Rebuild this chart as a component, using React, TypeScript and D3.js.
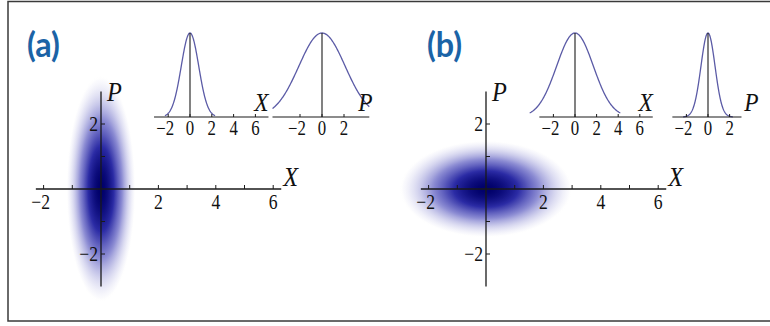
import React from "react";
import * as d3 from "d3";

// Panel titles
const panelTitles = ["(a)", "(b)"];

// Wigner-function widths (standard deviations) of the main density plots
const blobSigmaX = [0.5, 1.25];
const blobSigmaP = [1.45, 0.62];

// Marginal distributions shown in the small plots
const marginalXSigma = [0.8, 1.7];
const marginalPSigma = [2.1, 0.65];

// Main axes ticks
const mainXTicks = [-2, -1, 1, 2, 3, 4, 5, 6];
const mainXLabels = [-2, 2, 4, 6];
const mainPTicks = [-2, -1, 1, 2];
const mainPLabels = [-2, 2];

// Marginal plot ticks
const marginalXTicks = [-2, 0, 2, 4, 6];
const marginalPTicks = [-2, 0, 2];

// Axis/curve extents of the marginal plots (in data units)
const marginalXAxisDomain: [number, number][] = [[-3.3, 7.2], [-3.3, 7.2]];
const marginalXCurveDomain: [number, number][] = [[-2.3, 2.3], [-4.2, 4.2]];
const marginalPAxisDomain: [number, number][] = [[-4.5, 4.3], [-3.3, 3.1]];
const marginalPCurveDomain: [number, number][] = [[-4.5, 4.3], [-2.3, 2.3]];

const W = 770;
const H = 326;
const AXIS = "#1a1a1a";
const CURVE = "#5b5ba6";
const TITLE = "#1b63a6";
const SERIF = "'Liberation Serif', 'DejaVu Serif', serif";

const fmt = (v: number) => (v < 0 ? "\u2212" + Math.abs(v) : String(v));

// density colour ramp: white -> lavender -> blue -> navy
const densityRamp = d3
  .scaleLinear<string>()
  .domain([0, 0.3, 0.65, 1])
  .range(["#ffffff", "#8a8ad2", "#2a2aa4", "#00006a"])
  .interpolate(d3.interpolateRgb)
  .clamp(true);

function blobColor(d: number): string {
  return densityRamp((d - 0.06) / 0.94);
}

function SText(props: {
  x: number;
  y: number;
  size: number;
  anchor?: "start" | "middle" | "end";
  italic?: boolean;
  sx?: number;
  children: React.ReactNode;
}) {
  const { x, y, size, anchor = "middle", italic, sx = 0.84, children } = props;
  return (
    <text
      transform={`translate(${x},${y}) scale(${sx},1)`}
      fontFamily={SERIF}
      fontSize={size}
      fontStyle={italic ? "italic" : "normal"}
      textAnchor={anchor}
      fill="#111"
    >
      {children}
    </text>
  );
}

function Marginal(props: {
  zeroX: number;
  unit: number;
  axisDomain: [number, number];
  curveDomain: [number, number];
  sigma: number;
  ticks: number[];
  label: string;
  labelDx: number;
}) {
  const { zeroX, unit, axisDomain, curveDomain, sigma, ticks, label, labelDx } = props;
  const baseY = 117;
  const peakY = 33;
  const x = d3
    .scaleLinear()
    .domain(axisDomain)
    .range([zeroX + axisDomain[0] * unit, zeroX + axisDomain[1] * unit]);
  const y = d3.scaleLinear().domain([0, 1]).range([baseY, peakY]);
  const pts = d3.range(0, 201).map((i) => {
    const v = curveDomain[0] + ((curveDomain[1] - curveDomain[0]) * i) / 200;
    return [v, Math.exp(-(v * v) / (2 * sigma * sigma))] as [number, number];
  });
  const line = d3
    .line<[number, number]>()
    .x((d) => x(d[0]))
    .y((d) => y(d[1]));
  return (
    <g>
      <path d={line(pts) || ""} fill="none" stroke={CURVE} strokeWidth={1.3} />
      <line x1={x(axisDomain[0])} x2={x(axisDomain[1])} y1={baseY} y2={baseY} stroke={AXIS} strokeWidth={1.2} />
      <line x1={x(0)} x2={x(0)} y1={baseY} y2={peakY} stroke={AXIS} strokeWidth={1.1} />
      {ticks.map((t) => (
        <line key={t} x1={x(t)} x2={x(t)} y1={baseY} y2={baseY - 3} stroke={AXIS} strokeWidth={1} />
      ))}
      {ticks.map((t) => (
        <SText key={"l" + t} x={x(t) - (t < 0 ? 3 : 0)} y={baseY + 18} size={20}>
          {fmt(t)}
        </SText>
      ))}
      <SText x={x(axisDomain[1]) + labelDx} y={baseY - 6} size={26} italic sx={0.9}>
        {label}
      </SText>
    </g>
  );
}

function Panel(props: { idx: number; offset: number }) {
  const { idx, offset } = props;
  const ox = 101 + offset;
  const oy = 189;
  const ux = 28.7;
  const uy = 32.5;
  const sx = d3.scaleLinear().domain([-2.27, 6.28]).range([ox - 2.27 * ux, ox + 6.28 * ux]);
  const sy = d3.scaleLinear().domain([-3, 3]).range([oy + 3 * uy, oy - 3 * uy]);
  const gid = `blob-${idx}`;
  const R = 2.5;
  const stops = d3.range(0, 51).map((i) => {
    const o = i / 50;
    const r = o * R;
    return { o, c: blobColor(Math.exp(-(r * r) / 2)) };
  });
  return (
    <g>
      <defs>
        <radialGradient id={gid} cx="50%" cy="50%" r="50%">
          {stops.map((s, i) => (
            <stop key={i} offset={s.o} stopColor={s.c} />
          ))}
        </radialGradient>
      </defs>
      <ellipse
        cx={sx(0)}
        cy={sy(0)}
        rx={R * blobSigmaX[idx] * ux}
        ry={R * blobSigmaP[idx] * uy}
        fill={`url(#${gid})`}
      />
      {/* X axis */}
      <line x1={sx(-2.27)} x2={sx(6.28)} y1={oy} y2={oy} stroke={AXIS} strokeWidth={1.3} />
      {mainXTicks.map((t) => (
        <line key={t} x1={sx(t)} x2={sx(t)} y1={oy} y2={oy - 4} stroke={AXIS} strokeWidth={1} />
      ))}
      {mainXLabels.map((t) => (
        <SText key={t} x={sx(t) - (t < 0 ? 3 : 0)} y={oy + 20} size={21}>
          {fmt(t)}
        </SText>
      ))}
      <SText x={sx(6.28) + 2} y={oy - 3} size={27} italic anchor="start" sx={0.9}>
        X
      </SText>
      {/* P axis */}
      <line x1={ox} x2={ox} y1={sy(-3)} y2={sy(3)} stroke={AXIS} strokeWidth={1.3} />
      {mainPTicks.map((t) => (
        <line key={t} x1={ox} x2={ox + 4} y1={sy(t)} y2={sy(t)} stroke={AXIS} strokeWidth={1} />
      ))}
      {mainPLabels.map((t) => (
        <SText key={t} x={ox - 3} y={sy(t) + 7} size={21} anchor="end">
          {fmt(t)}
        </SText>
      ))}
      <SText x={ox + 6} y={sy(3) + 9} size={27} italic anchor="start" sx={0.9}>
        P
      </SText>
      {/* title */}
      <text
        transform={`translate(${27 + offset + (idx === 1 ? 15 : 0)},57) scale(0.95,1)`}
        fontFamily="Lato, 'Open Sans', sans-serif"
        fontWeight="bold"
        fontSize={34}
        fill={TITLE}
      >
        {panelTitles[idx]}
      </text>
      <Marginal
        zeroX={idx === 0 ? 190 : 575}
        unit={idx === 0 ? 10.9 : 10.8}
        axisDomain={marginalXAxisDomain[idx]}
        curveDomain={marginalXCurveDomain[idx]}
        sigma={marginalXSigma[idx]}
        ticks={marginalXTicks}
        label="X"
        labelDx={-7}
      />
      <Marginal
        zeroX={idx === 0 ? 322 : 708}
        unit={idx === 0 ? 11 : 10.8}
        axisDomain={marginalPAxisDomain[idx]}
        curveDomain={marginalPCurveDomain[idx]}
        sigma={marginalPSigma[idx]}
        ticks={marginalPTicks}
        label="P"
        labelDx={idx === 0 ? -4 : 10}
      />
    </g>
  );
}

export default function App() {
  return (
    <svg
      width={W}
      height={H}
      viewBox={`0 0 ${W} ${H}`}
      style={{ position: "absolute", left: 0, top: 0, background: "#fff" }}
    >
      <rect x={0} y={0} width={W} height={H} fill="#fff" />
      <Panel idx={0} offset={0} />
      <Panel idx={1} offset={385} />
      <rect x={8} y={1.5} width={770} height={319.5} fill="none" stroke="#3a3a3a" strokeWidth={1.5} />
    </svg>
  );
}
